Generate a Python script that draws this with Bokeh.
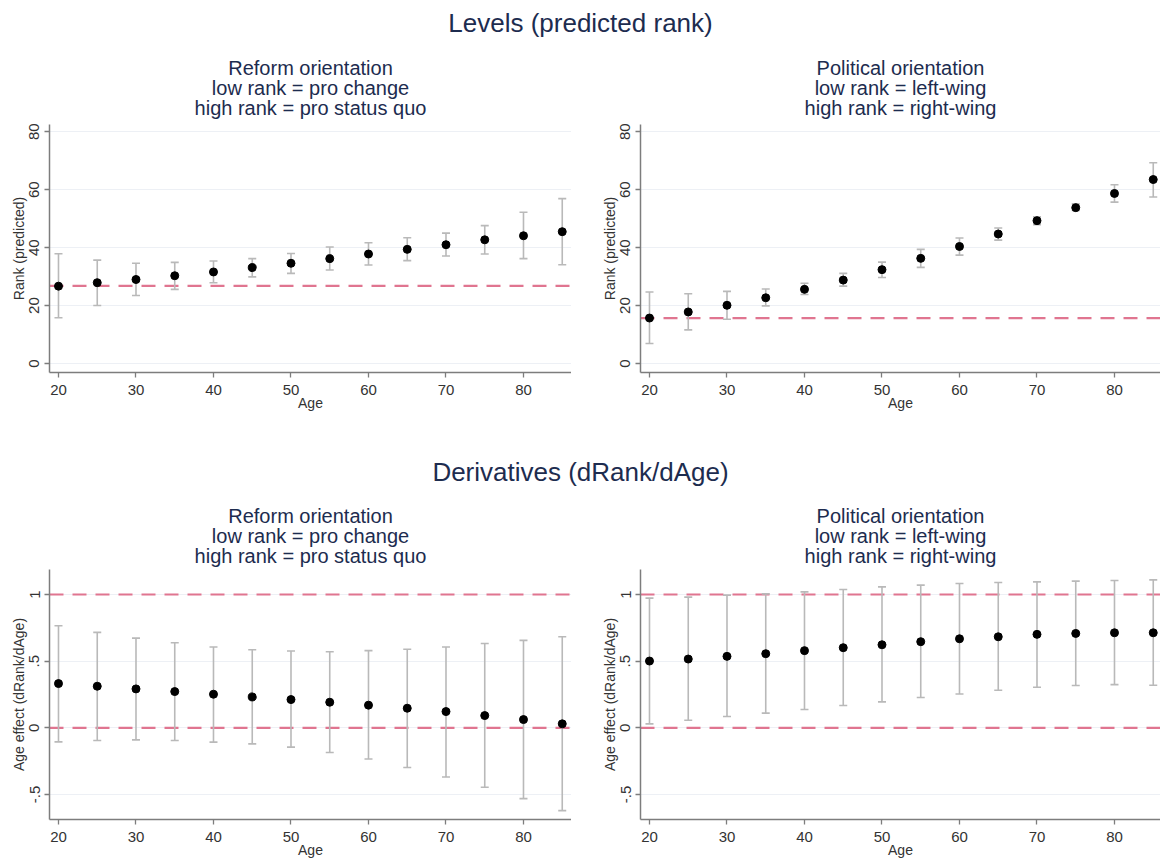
from bokeh.plotting import figure
from bokeh.layouts import column, row
from bokeh.models import ColumnDataSource, Whisker, TeeHead, Span, Title, FixedTicker, Range1d
from bokeh.embed import file_html
from bokeh.resources import INLINE

# ---------------- data ----------------
ages = [20, 25, 30, 35, 40, 45, 50, 55, 60, 65, 70, 75, 80, 85]

reform_rank = [26.7, 27.9, 29.0, 30.3, 31.6, 33.1, 34.6, 36.2, 37.8, 39.4, 41.0, 42.7, 44.1, 45.5]
reform_rank_lo = [15.8, 20.0, 23.5, 25.6, 27.9, 29.9, 31.1, 32.3, 34.0, 35.5, 37.1, 37.8, 36.2, 34.1]
reform_rank_hi = [37.9, 35.7, 34.6, 34.9, 35.4, 36.2, 38.0, 40.2, 41.7, 43.4, 45.0, 47.6, 52.2, 56.9]

political_rank = [15.7, 17.8, 20.1, 22.7, 25.6, 28.8, 32.4, 36.3, 40.4, 44.7, 49.3, 53.8, 58.7, 63.5]
political_rank_lo = [6.9, 11.6, 15.3, 19.9, 23.8, 26.7, 29.7, 33.2, 37.4, 42.6, 47.9, 52.8, 55.7, 57.5]
political_rank_hi = [24.7, 24.1, 24.9, 25.7, 27.7, 31.1, 35.0, 39.4, 43.3, 46.8, 50.6, 55.1, 61.7, 69.3]

reform_deriv = [0.332, 0.312, 0.292, 0.272, 0.252, 0.232, 0.212, 0.192, 0.170, 0.147, 0.122, 0.092, 0.062, 0.030]
reform_deriv_lo = [-0.105, -0.095, -0.090, -0.095, -0.107, -0.120, -0.145, -0.185, -0.234, -0.297, -0.369, -0.446, -0.531, -0.621]
reform_deriv_hi = [0.766, 0.716, 0.673, 0.638, 0.606, 0.586, 0.576, 0.571, 0.579, 0.589, 0.606, 0.633, 0.656, 0.683]

political_deriv = [0.501, 0.516, 0.536, 0.556, 0.579, 0.601, 0.623, 0.646, 0.668, 0.683, 0.701, 0.708, 0.713, 0.713]
political_deriv_lo = [0.030, 0.057, 0.085, 0.110, 0.137, 0.167, 0.195, 0.227, 0.254, 0.282, 0.304, 0.317, 0.324, 0.319]
political_deriv_hi = [0.973, 0.980, 0.995, 1.005, 1.020, 1.037, 1.057, 1.070, 1.082, 1.090, 1.095, 1.100, 1.105, 1.110]

reform_rank_ref = [26.8]
political_rank_ref = [15.7]
deriv_refs = [0, 1]

x_ticks = [20, 30, 40, 50, 60, 70, 80]
rank_ticks = [0, 20, 40, 60, 80]
deriv_ticks = [-0.5, 0, 0.5, 1]
deriv_tick_labels = {-0.5: "-.5", 0: "0", 0.5: ".5", 1: "1"}

reform_titles = ["Reform orientation", "low rank = pro change", "high rank = pro status quo"]
political_titles = ["Political orientation", "low rank = left-wing", "high rank = right-wing"]

# ---------------- style ----------------
FONT = "Liberation Sans"
NAVY = "#1d2c4f"
TXT = "#333333"
AXIS = "#7d7d7d"
GRID = "#edf0f5"
REF = "#e07590"
BAR = "#b9b9b9"
TOTAL_W = 1160


def header(text, top):
    p = figure(frame_width=TOTAL_W, frame_height=1, toolbar_location=None,
               output_backend="svg", min_border_left=0, min_border_right=0,
               min_border_top=top, min_border_bottom=0, x_range=(0, 1), y_range=(0, 1))
    p.outline_line_color = None
    p.axis.visible = False
    p.grid.visible = False
    p.title.text = text
    p.title.align = "center"
    p.title.text_font = FONT
    p.title.text_font_size = "26px"
    p.title.text_font_style = "normal"
    p.title.text_color = NAVY
    p.title.standoff = 0
    return p


def panel(titles, x, y, lo, hi, refs, xr, yr, yticks, ylabel, frame_w, frame_h,
          left, top, bottom, standoffs, overrides=None):
    p = figure(frame_width=frame_w, frame_height=frame_h,
               x_range=Range1d(*xr), y_range=Range1d(*yr),
               toolbar_location=None, output_backend="svg",
               min_border_left=left, min_border_right=0,
               min_border_top=top, min_border_bottom=bottom)
    p.outline_line_color = None
    p.background_fill_color = "white"
    p.border_fill_color = "white"
    p.xgrid.visible = False
    p.ygrid.grid_line_color = GRID
    p.ygrid.grid_line_width = 1.2

    # three title lines: p.title is outermost, first added "above" is nearest the frame
    p.title.text = titles[0]
    near = Title(text=titles[2])
    mid = Title(text=titles[1])
    for t in [p.title, mid, near]:
        t.align = "center"
        t.text_font = FONT
        t.text_font_size = "20px"
        t.text_font_style = "normal"
        t.text_color = NAVY
        t.offset = 0
    near.standoff, mid.standoff, p.title.standoff = standoffs
    p.add_layout(near, "above")
    p.add_layout(mid, "above")

    src = ColumnDataSource(dict(x=x, y=y, lo=lo, hi=hi))
    for r in refs:
        p.add_layout(Span(location=r, dimension="width", line_color=REF,
                          line_width=2.2, line_dash="14 9", level="underlay"))
    w = Whisker(source=src, base="x", upper="hi", lower="lo",
                line_color=BAR, line_width=1.6, level="underlay",
                upper_head=TeeHead(size=8, line_color=BAR, line_width=1.6),
                lower_head=TeeHead(size=8, line_color=BAR, line_width=1.6))
    p.add_layout(w)
    p.scatter("x", "y", source=src, size=8, color="black")

    p.xaxis.ticker = FixedTicker(ticks=x_ticks)
    p.yaxis.ticker = FixedTicker(ticks=yticks)
    if overrides:
        p.yaxis.major_label_overrides = overrides
    p.yaxis.major_label_orientation = "vertical"
    p.xaxis.axis_label = "Age"
    p.yaxis.axis_label = ylabel
    for ax in p.axis:
        ax.axis_line_color = AXIS
        ax.axis_line_width = 1.5
        ax.major_tick_line_color = AXIS
        ax.major_tick_line_width = 1.3
        ax.major_tick_out = 5
        ax.major_tick_in = 0
        ax.minor_tick_line_color = None
        ax.major_label_text_font = FONT
        ax.major_label_text_font_size = "15px"
        ax.major_label_text_color = TXT
        ax.major_label_standoff = 5
        ax.axis_label_text_font = FONT
        ax.axis_label_text_font_size = "14px"
        ax.axis_label_text_font_style = "normal"
        ax.axis_label_text_color = TXT
        ax.axis_label_standoff = 0
    p.xaxis.major_label_standoff = 7
    p.xaxis.axis_label_standoff = -3
    return p


PX_PER_YEAR = 7.75
X0 = 18.84
FW1 = 522
FW2 = TOTAL_W - 571 - 69
xr1 = (X0, X0 + FW1 / PX_PER_YEAR)
xr2 = (X0, X0 + FW2 / PX_PER_YEAR)

TOP_STANDOFFS = (11, -19, 11)
BOT_STANDOFFS = (5, -13, 5)

h1 = header("Levels (predicted rank)", 37)
p1 = panel(reform_titles, ages, reform_rank, reform_rank_lo, reform_rank_hi,
           reform_rank_ref, xr1, (-3.1, 82.5), rank_ticks, "Rank (predicted)",
           FW1, 248, 49, 86, 77, TOP_STANDOFFS)
p2 = panel(political_titles, ages, political_rank, political_rank_lo, political_rank_hi,
           political_rank_ref, xr2, (-3.1, 82.5), rank_ticks, "Rank (predicted)",
           FW2, 248, 69, 86, 77, TOP_STANDOFFS)
h2 = header("Derivatives (dRank/dAge)", 37)
p3 = panel(reform_titles, ages, reform_deriv, reform_deriv_lo, reform_deriv_hi,
           deriv_refs, xr1, (-0.6875, 1.1875), deriv_ticks, "Age effect (dRank/dAge)",
           FW1, 250, 49, 82, 42, BOT_STANDOFFS, deriv_tick_labels)
p4 = panel(political_titles, ages, political_deriv, political_deriv_lo, political_deriv_hi,
           deriv_refs, xr2, (-0.6875, 1.1875), deriv_ticks, "Age effect (dRank/dAge)",
           FW2, 250, 69, 82, 42, BOT_STANDOFFS, deriv_tick_labels)

layout = column(h1, row(p1, p2), h2, row(p3, p4))

open("out.html", "w").write(file_html(layout, INLINE))
